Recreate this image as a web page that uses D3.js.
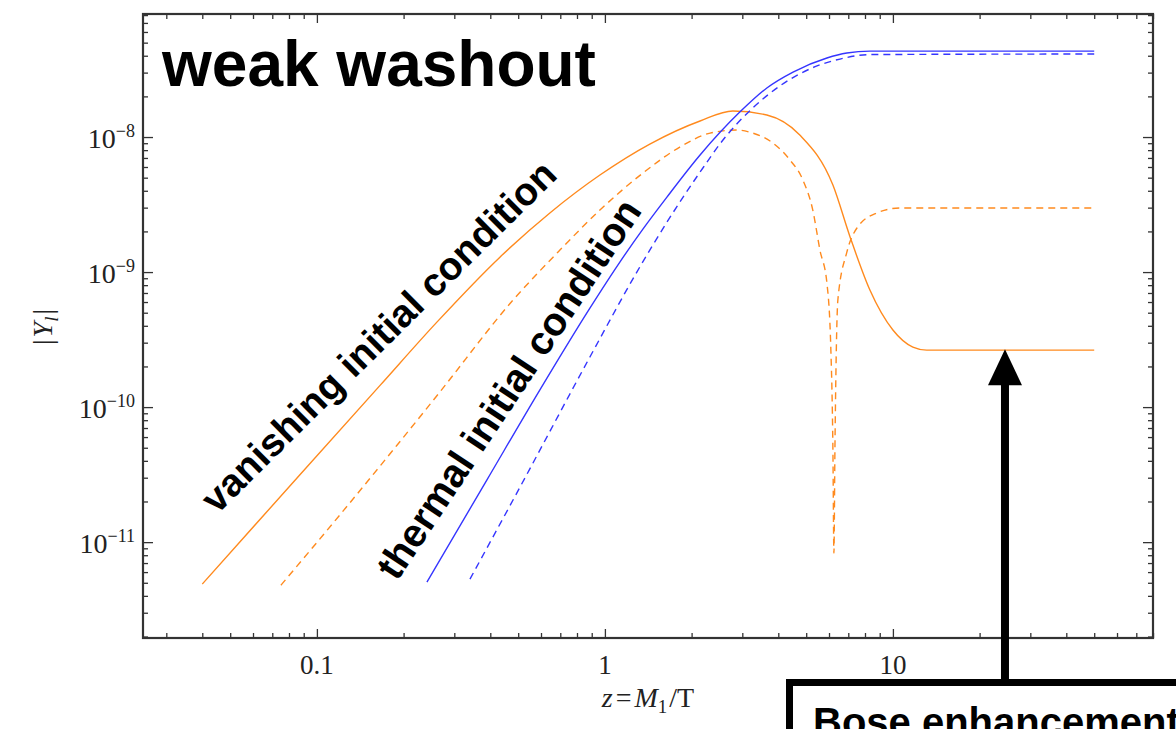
<!DOCTYPE html>
<html><head><meta charset="utf-8">
<script src="https://cdn.jsdelivr.net/npm/d3@7"></script>
<style>body{margin:0;background:#fff;} svg{display:block;}</style>
</head><body>
<svg id="chart" width="1176" height="729"></svg>
<script>
// ---- data ----
const zVanishingSolid = [0.040,0.087,0.166,0.261,0.432,0.644,0.961,1.432,2.14,2.78,3.65,4.75,6.19,7.10,8.32,10.0,11.73,13.1,50];
const yVanishingSolid = [4.89e-12,3.13e-11,1.455e-10,4.26e-10,1.29e-9,2.74e-9,5.23e-9,8.87e-9,1.315e-8,1.56e-8,1.455e-8,1.035e-8,4.41e-9,1.82e-9,7.36e-10,3.72e-10,2.78e-10,2.64e-10,2.64e-10];

const zVanishingDashed = [0.075,0.120,0.190,0.267,0.480,0.698,0.961,1.355,1.82,2.32,2.87,3.26,3.83,4.39,4.87,5.27,5.58,5.90,6.09,6.19,6.24,6.29,6.44,6.92,7.50,8.80,10.57,50];
const yVanishingDashed = [4.8e-12,1.585e-11,5.24e-11,1.29e-10,6.21e-10,1.455e-9,2.88e-9,5.41e-9,8.43e-9,1.07e-8,1.127e-8,1.07e-8,9.03e-9,6.76e-9,4.80e-9,2.88e-9,1.455e-9,8.3e-10,2.64e-10,4.8e-11,8.3e-12,4.8e-11,6.21e-10,1.405e-9,2.12e-9,2.74e-9,2.98e-9,2.98e-9];

const zThermalSolid = [0.241,0.389,0.594,0.887,1.127,1.355,1.642,2.14,2.94,3.65,4.50,5.90,6.92,8.32,50];
const yThermalSolid = [5.06e-12,2.88e-11,1.337e-10,5.41e-10,1.186e-9,2.08e-9,3.59e-9,7.36e-9,1.53e-8,2.31e-8,3.03e-8,3.85e-8,4.19e-8,4.33e-8,4.33e-8];

const zThermalDashed = [0.340,0.507,0.887,1.291,1.642,2.14,2.57,3.26,4.05,5.45,6.55,8.32,50];
const yThermalDashed = [5.32e-12,2.55e-11,2.35e-10,1.0e-9,2.34e-9,5.5e-9,9.5e-9,1.64e-8,2.39e-8,3.36e-8,3.78e-8,4.08e-8,4.12e-8];

const xTickValues = [0.1, 1, 10];
const xTickLabels = ["0.1", "1", "10"];
const yTickValues = [1e-8, 1e-9, 1e-10, 1e-11];
const yTickExponents = ["\u22128", "\u22129", "\u221210", "\u221211"];

const arrowTarget = {z: 24.5, Y: 2.64e-10};

// ---- layout ----
const svg = d3.select("#chart");
const P = {left:143, right:1153, top:14, bottom:638};
const x = d3.scaleLog().domain([0.0249, 80]).range([P.left, P.right]);
const y = d3.scaleLog().domain([1.95e-12, 8.15e-8]).range([P.bottom, P.top]);

svg.append("rect").attr("width",1176).attr("height",729).attr("fill","#fff");

svg.append("clipPath").attr("id","clip").append("rect")
  .attr("x",P.left).attr("y",P.top).attr("width",P.right-P.left).attr("height",P.bottom-P.top);

const ORANGE = "#ff8a1e", BLUE = "#3535ff";
const series = [
  {z:zVanishingSolid, v:yVanishingSolid, color:ORANGE, dash:null},
  {z:zVanishingDashed, v:yVanishingDashed, color:ORANGE, dash:"7,5"},
  {z:zThermalSolid, v:yThermalSolid, color:BLUE, dash:null},
  {z:zThermalDashed, v:yThermalDashed, color:BLUE, dash:"7,5"},
];
const line = d3.line().x(d=>x(d[0])).y(d=>y(d[1])).curve(d3.curveMonotoneX);
const gLines = svg.append("g").attr("clip-path","url(#clip)");
series.forEach(s=>{
  const pts = s.z.map((z,i)=>[z, s.v[i]]);
  gLines.append("path").attr("d", line(pts)).attr("fill","none")
    .attr("stroke", s.color).attr("stroke-width",1.4)
    .attr("stroke-dasharray", s.dash);
});

// ---- axes / ticks ----
function minorTicks(dom){
  const out=[];
  for(let e=Math.floor(Math.log10(dom[0])); e<=Math.ceil(Math.log10(dom[1])); e++){
    for(let k=2;k<=9;k++){ const v=k*Math.pow(10,e); if(v>=dom[0]&&v<=dom[1]) out.push(v); }
  }
  return out;
}
const minorX = minorTicks(x.domain()), minorY = minorTicks(y.domain());
const TICKC = "#333";
function addAxis(gen, tr, vals, size){
  const g = svg.append("g").attr("transform", tr)
    .call(gen.tickValues(vals).tickSize(-size).tickFormat(""));
  g.select(".domain").remove();
  g.selectAll("line").attr("stroke", TICKC).attr("stroke-width",1.3);
}
addAxis(d3.axisBottom(x), `translate(0,${P.bottom})`, xTickValues, 9);
addAxis(d3.axisBottom(x), `translate(0,${P.bottom})`, minorX, 5);
addAxis(d3.axisTop(x), `translate(0,${P.top})`, xTickValues, 9);
addAxis(d3.axisTop(x), `translate(0,${P.top})`, minorX, 5);
addAxis(d3.axisLeft(y), `translate(${P.left},0)`, yTickValues, 10);
addAxis(d3.axisLeft(y), `translate(${P.left},0)`, minorY, 5);
addAxis(d3.axisRight(y), `translate(${P.right},0)`, yTickValues, 10);
addAxis(d3.axisRight(y), `translate(${P.right},0)`, minorY, 5);

svg.append("rect").attr("x",P.left).attr("y",P.top)
  .attr("width",P.right-P.left).attr("height",P.bottom-P.top)
  .attr("fill","none").attr("stroke","#333").attr("stroke-width",2.2);

const SERIF = "'Liberation Serif','DejaVu Serif',serif";
svg.append("g").selectAll("text").data(xTickValues).join("text")
  .attr("x", d=>x(d)).attr("y", 674).attr("text-anchor","middle")
  .attr("font-family",SERIF).attr("font-size",27).attr("fill","#222")
  .text((d,i)=>xTickLabels[i]);

const yl = svg.append("g").selectAll("text").data(yTickValues).join("text")
  .attr("x", 135).attr("y", d=>y(d)+11).attr("text-anchor","end")
  .attr("font-family",SERIF).attr("font-size",28).attr("fill","#222");
yl.append("tspan").text("10");
yl.append("tspan").attr("dy",-11).attr("font-size",18).text((d,i)=>yTickExponents[i]);

// axis titles
const xt = svg.append("text").attr("x",648).attr("y",707).attr("text-anchor","middle")
  .attr("font-family",SERIF).attr("font-size",28).attr("fill","#222");
xt.append("tspan").attr("font-style","italic").text("z");
xt.append("tspan").attr("dx",3).text("=");
xt.append("tspan").attr("dx",3).attr("font-style","italic").text("M");
xt.append("tspan").attr("font-size",19).attr("dy",6).text("1");
xt.append("tspan").attr("dy",-6).attr("dx",2).text("/T");

const yt = svg.append("text").attr("transform","translate(52,327) rotate(-90)")
  .attr("text-anchor","middle").attr("font-family",SERIF).attr("font-size",28).attr("fill","#222");
yt.append("tspan").text("|");
yt.append("tspan").attr("dx",2).attr("font-style","italic").text("Y");
yt.append("tspan").attr("font-style","italic").attr("font-size",19).attr("dy",6).text("l");
yt.append("tspan").attr("dx",2).attr("dy",-6).text("|");

// ---- annotations ----
const SANS = "'Liberation Sans',Arial,Helvetica,sans-serif";
svg.append("text").attr("x",162).attr("y",86)
  .attr("font-family",SANS).attr("font-weight","bold").attr("font-size",64).attr("fill","#000")
  .text("weak washout");
svg.append("text").attr("transform","translate(217,515) rotate(-44.7)")
  .attr("font-family",SANS).attr("font-weight","bold").attr("font-size",39).attr("fill","#000")
  .text("vanishing initial condition");
svg.append("text").attr("transform","translate(397,582) rotate(-56.5)")
  .attr("font-family",SANS).attr("font-weight","bold").attr("font-size",39.5).attr("fill","#000")
  .text("thermal initial condition");

// arrow + box
const ax = x(arrowTarget.z), ay = y(arrowTarget.Y);
svg.append("line").attr("x1",ax).attr("x2",ax).attr("y1",ay+30).attr("y2",685)
  .attr("stroke","#000").attr("stroke-width",8);
svg.append("path").attr("d",`M${ax},${ay-1} L${ax-17},${ay+35} L${ax+17},${ay+35} Z`).attr("fill","#000");
svg.append("rect").attr("x",789.5).attr("y",682.5).attr("width",500).attr("height",200)
  .attr("fill","#fff").attr("stroke","#000").attr("stroke-width",7);
svg.append("text").attr("x",813).attr("y",736)
  .attr("font-family",SANS).attr("font-weight","bold").attr("font-size",40).attr("fill","#000")
  .text("Bose enhancement");
</script>
</body></html>
